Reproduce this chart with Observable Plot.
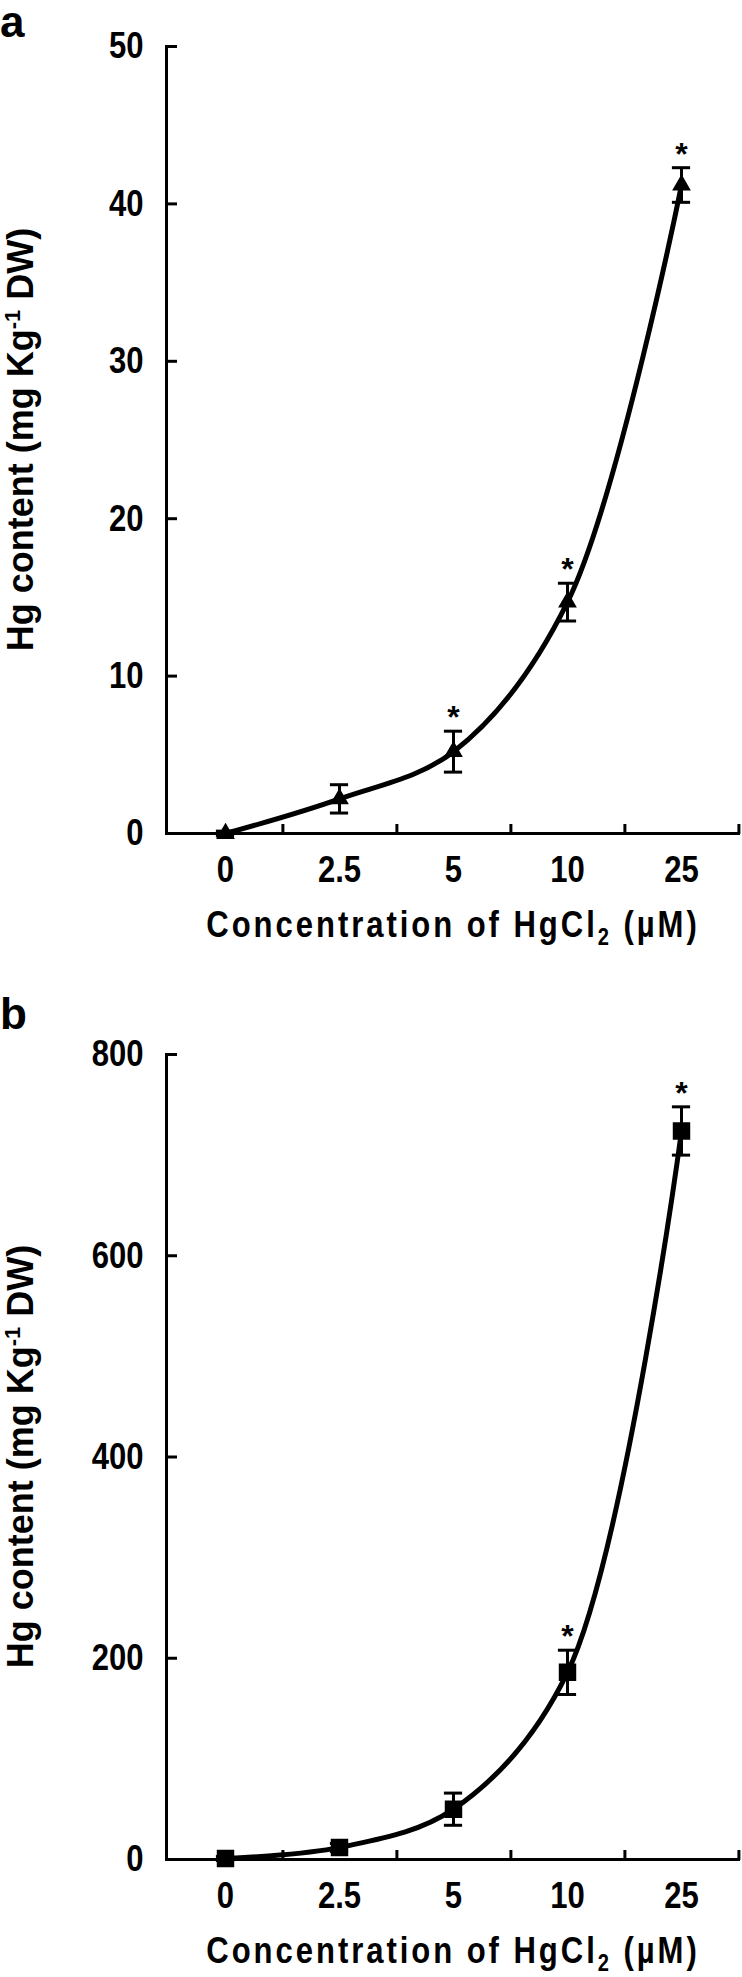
<!DOCTYPE html>
<html><head><meta charset="utf-8">
<script src="https://cdn.jsdelivr.net/npm/d3@7"></script>
<script src="https://cdn.jsdelivr.net/npm/@observablehq/plot@0.6"></script>
<style>
body{margin:0;background:#fff;}
#wrap{position:relative;width:742px;}
.panel{position:relative;}
.panel svg{display:block;}
.plabel{position:absolute;left:0;font-family:"Liberation Sans",Arial,sans-serif;font-weight:bold;font-size:44px;line-height:1;}
</style></head><body><div id="wrap"></div>
<script>
// ---- data ----
const concentrations = ["0", "2.5", "5", "10", "25"];
const panelLabels = ["a", "b"];
const hgA = [0, 2.2, 5.2, 14.7, 41.2];
const errA = [0.15, 0.9, 1.3, 1.2, 1.1];
const sigA = [false, false, true, true, true];
const hgB = [1, 12, 50, 186, 724];
const errB = [2, 4, 16, 22, 24];
const sigB = [false, false, false, true, true];
const yTicksA = [0, 10, 20, 30, 40, 50];
const yTicksB = [0, 200, 400, 600, 800];
const yTitle = ["Hg content (mg Kg", "-1", " DW)"];
const xTitle = ["Concentration of HgCl", "2", " (\u00b5M)"];

const W = 742, ML = 166, MR = 2;
const bw = (W - ML - MR) / concentrations.length;
const sans = "'Liberation Sans',Arial,sans-serif";

function panel({label, values, errors, sig, yTicks, symbol, r, height, marginTop, marginBottom, labelTop}) {
  const data = concentrations.map((c, i) => ({c, v: values[i], lo: values[i] - errors[i], hi: values[i] + errors[i], sig: sig[i]}));
  const innerH = height - marginTop - marginBottom;
  const capInset = (bw - 19) / 2;
  const plot = Plot.plot({
    width: W, height, marginLeft: ML, marginRight: MR, marginTop, marginBottom,
    style: {fontFamily: sans, fontWeight: "bold", color: "#000", background: "#fff", overflow: "visible"},
    x: {domain: concentrations, padding: 0, label: null, axis: null},
    y: {domain: [0, yTicks[yTicks.length - 1]], label: null, axis: null},
    marks: [
      Plot.frame({anchor: "left", strokeWidth: 3, stroke: "#000"}),
      Plot.ruleY([0], {strokeWidth: 3, stroke: "#000"}),
      // inward y ticks
      Plot.axisY({anchor: "right", ticks: yTicks, dx: -(W - ML - MR), tickSize: 10, strokeWidth: 3, tickFormat: () => "", label: null}),
      // y tick labels
      Plot.axisY({anchor: "left", ticks: yTicks, tickSize: 0, tickPadding: 23, fontSize: 37, fontFamily: sans, fontWeight: "bold", label: null}),
      // inward x ticks at band boundaries
      Plot.axisX({anchor: "top", dy: innerH, dx: bw / 2, tickSize: 10, strokeWidth: 3, tickFormat: () => "", label: null}),
      // x tick labels
      Plot.axisX({anchor: "bottom", tickSize: 0, tickPadding: 22, fontSize: 37, fontFamily: sans, fontWeight: "bold", label: null}),
      Plot.line(data, {x: "c", y: "v", curve: "catmull-rom", strokeWidth: 5, stroke: "#000"}),
      Plot.ruleX(data, {x: "c", y1: "lo", y2: "hi", strokeWidth: 3, stroke: "#000"}),
      Plot.tickY(data, {x: "c", y: "hi", insetLeft: capInset, insetRight: capInset, strokeWidth: 3, stroke: "#000"}),
      Plot.tickY(data, {x: "c", y: "lo", insetLeft: capInset, insetRight: capInset, strokeWidth: 3, stroke: "#000"}),
      Plot.dot(data, {x: "c", y: "v", symbol, r, fill: "#000", stroke: "#000"}),
      Plot.text(data.filter(d => d.sig), {x: "c", y: "hi", text: () => "*", dy: -13, fontSize: 32, fontFamily: sans, fontWeight: "bold"})
    ]
  });
  const svg = d3.select(plot);
  // condense tick labels horizontally (the reference uses a narrow face)
  svg.selectAll('g[aria-label="y-axis tick label"] text, g[aria-label="x-axis tick label"] text')
    .attr("transform", function() { return (this.getAttribute("transform") || "") + " scale(0.84,1)"; });
  // y title
  const yc = marginTop + innerH / 2;
  const yt = svg.append("text")
    .attr("transform", `translate(33,${yc}) rotate(-90)`)
    .attr("text-anchor", "middle")
    .attr("font-family", sans).attr("font-weight", "bold").attr("font-size", 36).attr("fill", "#000");
  yt.append("tspan").text(yTitle[0]);
  yt.append("tspan").attr("dy", -13).attr("font-size", 22).text(yTitle[1]);
  yt.append("tspan").attr("dy", 13).text(yTitle[2]);
  // x title
  const xt = svg.append("text")
    .attr("transform", `translate(${ML + (W - ML - MR) / 2},${height - marginBottom + 104}) scale(0.84,1)`)
    .attr("text-anchor", "middle")
    .attr("font-family", sans).attr("font-weight", "bold").attr("font-size", 37)
    .attr("letter-spacing", 3.5).attr("fill", "#000");
  xt.append("tspan").text(xTitle[0]);
  xt.append("tspan").attr("dy", 8).attr("font-size", 24).text(xTitle[1]);
  xt.append("tspan").attr("dy", -8).text(xTitle[2]);

  const div = document.createElement("div");
  div.className = "panel";
  div.appendChild(plot);
  const lab = document.createElement("div");
  lab.className = "plabel";
  lab.style.top = labelTop + "px";
  lab.textContent = label;
  div.appendChild(lab);
  return div;
}

const wrap = document.getElementById("wrap");
wrap.appendChild(panel({label: panelLabels[0], values: hgA, errors: errA, sig: sigA, yTicks: yTicksA, symbol: "triangle", r: 6, height: 980, marginTop: 46, marginBottom: 147, labelTop: 0}));
wrap.appendChild(panel({label: panelLabels[1], values: hgB, errors: errB, sig: sigB, yTicks: yTicksB, symbol: "square", r: 9, height: 997, marginTop: 74, marginBottom: 118, labelTop: 12}));
</script></body></html>
